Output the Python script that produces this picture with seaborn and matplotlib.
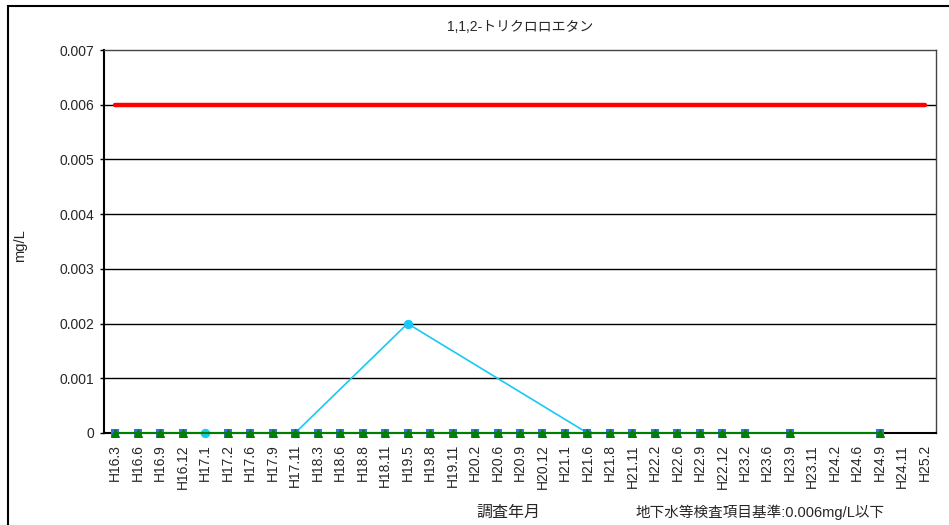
# import the libraries
import numpy as np
import pandas as pd
import seaborn as sns
import matplotlib.pyplot as plt
from matplotlib.patches import Rectangle

# categories (survey year/month)
months = ["H16.3", "H16.6", "H16.9", "H16.12", "H17.1", "H17.2", "H17.6", "H17.9",
          "H17.11", "H18.3", "H18.6", "H18.8", "H18.11", "H19.5", "H19.8", "H19.11",
          "H20.2", "H20.6", "H20.9", "H20.12", "H21.1", "H21.6", "H21.8", "H21.11",
          "H22.2", "H22.6", "H22.9", "H22.12", "H23.2", "H23.6", "H23.9", "H23.11",
          "H24.2", "H24.6", "H24.9", "H24.11", "H25.2"]

nan = np.nan
# blue squares
blue_vals = [0, 0, 0, 0, nan, 0, 0, 0, 0, 0, 0, 0, 0, 0, 0, 0, 0, 0, 0, 0, 0,
             0, 0, 0, 0, 0, 0, 0, 0, nan, 0, nan, nan, nan, 0, nan, nan]
# green triangles
green_vals = [0, 0, 0, 0, nan, 0, 0, 0, 0, 0, 0, 0, 0, 0, 0, 0, 0, 0, 0, 0, 0,
              0, 0, 0, 0, 0, 0, 0, 0, nan, 0, nan, nan, nan, 0, nan, nan]
# cyan circles
cyan_vals = [nan, nan, nan, nan, 0, nan, nan, nan, 0, nan, nan, nan, nan, 0.002,
             nan, nan, nan, nan, nan, nan, nan, 0, nan, nan, nan, nan, nan, nan,
             nan, nan, nan, nan, nan, nan, nan, nan, nan]
# groundwater standard
standard = [0.006] * len(months)

df = pd.DataFrame({"idx": np.arange(len(months)), "month": months,
                   "blue": blue_vals, "green": green_vals, "cyan": cyan_vals,
                   "std": standard})

sns.set_style("white")
plt.rcParams["font.family"] = ["Liberation Sans", "Noto Sans CJK JP", "DejaVu Sans"]

fig = plt.figure(figsize=(9.49, 5.25), dpi=100)
ax = fig.add_axes([104 / 949, 1 - 433 / 525, 832 / 949, 383 / 525])

# horizontal grid
for y in np.arange(0.001, 0.0065, 0.001):
    ax.axhline(y, color="black", lw=1.0, zorder=1)

# standard line
sns.lineplot(data=df, x="idx", y="std", ax=ax, color="#ff0000", lw=3.2, zorder=3)

# cyan series
d = df.dropna(subset=["cyan"])
sns.lineplot(data=d, x="idx", y="cyan", ax=ax, color="#19c8f5", lw=1.2,
             marker="o", markersize=6, markeredgecolor="#19c8f5", zorder=4, clip_on=False)

# blue squares
d = df.dropna(subset=["blue"])
sns.scatterplot(data=d, x="idx", y="blue", ax=ax, color="#3a6ef2", marker="s",
                s=32, edgecolor="#3a6ef2", linewidth=0, zorder=5, clip_on=False)

# green triangles with line
d = df.dropna(subset=["green"])
sns.lineplot(data=d, x="idx", y="green", ax=ax, color="#008000", lw=1.5,
             marker="^", markersize=5.5, markeredgecolor="#008000", zorder=6, clip_on=False)

ax.set_xlim(-0.5, len(months) - 0.5)
ax.set_ylim(0, 0.007)
ax.set_yticks(np.arange(0, 0.0071, 0.001))
ax.set_yticklabels(["0"] + [f"{v:.3f}" for v in np.arange(0.001, 0.0071, 0.001)])
ax.set_xticks(np.arange(len(months)))
ax.set_xticklabels(months, rotation=90, fontsize=10)
ax.set_xticks(np.arange(-0.5, len(months)), minor=True)
ax.tick_params(axis="x", which="major", length=0, pad=8)
ax.tick_params(axis="x", which="minor", direction="in", length=4, width=1, color="black")
ax.tick_params(axis="y", direction="out", length=3, width=1, color="black",
               labelsize=10, pad=4)
ax.tick_params(left=True, bottom=True)

for s in ax.spines.values():
    s.set_color("black")
    s.set_linewidth(1.0)
ax.spines["left"].set_linewidth(1.5)
ax.spines["bottom"].set_linewidth(1.5)
ax.spines["right"].set_color("#444444")
ax.spines["top"].set_color("#444444")

ax.set_xlabel("")
ax.set_ylabel("mg/L", fontsize=10.5)
ax.yaxis.set_label_coords(-0.092, 0.49)

# titles and notes
fig.text(520 / 949, 1 - 27 / 525, "1,1,2-トリクロロエタン", ha="center", va="center", fontsize=10)
fig.text(508 / 949, 1 - 512 / 525, "調査年月", ha="center", va="center", fontsize=11.5)
fig.text(885 / 949, 1 - 512 / 525, "地下水等検査項目基準:0.006mg/L以下", ha="right",
         va="center", fontsize=10.5)

# outer chart frame
fig.patches.append(Rectangle((8 / 949, -0.2), 1.2, 1.2 - 6 / 525, transform=fig.transFigure,
                             fill=False, edgecolor="black", lw=1.5))

fig.savefig("out.png", dpi=100, facecolor="white")
